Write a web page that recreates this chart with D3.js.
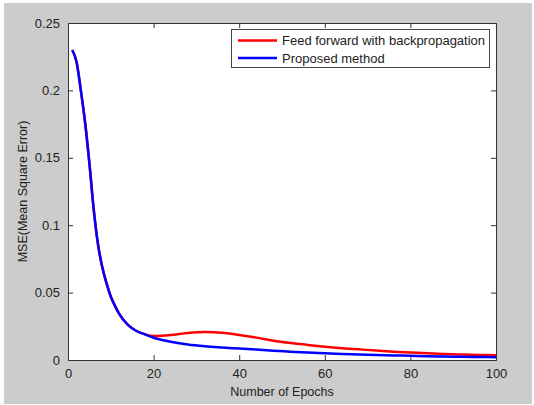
<!DOCTYPE html>
<html>
<head>
<meta charset="utf-8">
<script src="https://cdn.jsdelivr.net/npm/d3@7"></script>
<style>
  body { margin: 0; background: #fff; }
  text { font-family: "Liberation Sans", Arial, sans-serif; fill: #222; }
</style>
</head>
<body>
<div id="chart"></div>
<script>
// epochs
var epochs = [1, 2, 3, 4, 5, 6, 7, 8, 9, 10, 11, 12, 14, 16, 18, 20, 24, 28, 32, 36, 40, 44, 48, 52, 56, 60, 64, 68, 72, 76, 80, 84, 88, 92, 96, 100];
var backprop = [0.230, 0.221, 0.200, 0.176, 0.146, 0.112, 0.086, 0.069, 0.057, 0.047, 0.040, 0.034, 0.026, 0.0215, 0.019, 0.0178, 0.0185, 0.0200, 0.0207, 0.0203, 0.0186, 0.0166, 0.0143, 0.0126, 0.0112, 0.0099, 0.0088, 0.0079, 0.0070, 0.0062, 0.0056, 0.0050, 0.0045, 0.0041, 0.0038, 0.0035];
var proposed = [0.230, 0.221, 0.200, 0.176, 0.146, 0.112, 0.086, 0.069, 0.057, 0.047, 0.040, 0.034, 0.026, 0.0215, 0.019, 0.0165, 0.0136, 0.0115, 0.0102, 0.0093, 0.0085, 0.0077, 0.0069, 0.0062, 0.0055, 0.0050, 0.0045, 0.0041, 0.0037, 0.0034, 0.0031, 0.0028, 0.0026, 0.0024, 0.0022, 0.0021];
var seriesNames = ["Feed forward with backpropagation", "Proposed method"];
var seriesColors = ["#ff0000", "#0000ff"];
var xTicks = [0, 20, 40, 60, 80, 100];
var yTicks = [0, 0.05, 0.1, 0.15, 0.2, 0.25];

var W = 534, H = 405;
var m = {left: 68, top: 23, right: 496, bottom: 360};

var svg = d3.select("#chart").append("svg")
  .attr("width", W)
  .attr("height", H);

svg.append("rect")
  .attr("x", 4).attr("y", 3)
  .attr("width", W - 6).attr("height", H - 4)
  .attr("fill", "#cccccc");

svg.append("rect")
  .attr("x", m.left).attr("y", m.top)
  .attr("width", m.right - m.left).attr("height", m.bottom - m.top)
  .attr("fill", "#fff");

var x = d3.scaleLinear().domain([0, 100]).range([m.left, m.right]);
var y = d3.scaleLinear().domain([0, 0.25]).range([m.bottom, m.top]);

function fmt(d) { return d === 0 ? "0" : String(+d.toFixed(2)); }

// axes with inward ticks on all four sides
var axB = svg.append("g").attr("transform", "translate(0," + m.bottom + ")")
  .call(d3.axisBottom(x).tickValues(xTicks).tickSize(-5).tickPadding(9).tickFormat(fmt));
var axT = svg.append("g").attr("transform", "translate(0," + m.top + ")")
  .call(d3.axisTop(x).tickValues(xTicks).tickSize(-5).tickFormat(""));
var axL = svg.append("g").attr("transform", "translate(" + m.left + ",0)")
  .call(d3.axisLeft(y).tickValues(yTicks).tickSize(-5).tickPadding(8).tickFormat(fmt));
var axR = svg.append("g").attr("transform", "translate(" + m.right + ",0)")
  .call(d3.axisRight(y).tickValues(yTicks).tickSize(-5).tickFormat(""));

[axB, axT, axL, axR].forEach(function(a) {
  a.select(".domain").attr("stroke", "#333");
  a.selectAll(".tick line").attr("stroke", "#333");
  a.selectAll("text").style("font-size", "13px").attr("fill", "#222")
    .style("font-family", "'Liberation Sans', Arial, sans-serif");
});

var line = d3.line()
  .x(function(d) { return x(d[0]); })
  .y(function(d) { return y(d[1]); })
  .curve(d3.curveMonotoneX);

var allSeries = [backprop, proposed];
allSeries.forEach(function(vals, i) {
  svg.append("path")
    .datum(epochs.map(function(e, j) { return [e, vals[j]]; }))
    .attr("fill", "none")
    .attr("stroke", seriesColors[i])
    .attr("stroke-width", 2.5)
    .attr("d", line);
});

// legend
var lg = svg.append("g");
lg.append("rect")
  .attr("x", 231.5).attr("y", 29.5)
  .attr("width", 258).attr("height", 38)
  .attr("fill", "#fff").attr("stroke", "#444");
seriesNames.forEach(function(name, i) {
  var yy = 40.5 + i * 17.5;
  lg.append("line")
    .attr("x1", 238).attr("x2", 277)
    .attr("y1", yy).attr("y2", yy)
    .attr("stroke", seriesColors[i]).attr("stroke-width", 2.5);
  lg.append("text")
    .attr("x", 282).attr("y", yy + 4.5)
    .style("font-size", "13px")
    .text(name);
});

svg.append("text")
  .attr("x", (m.left + m.right) / 2).attr("y", 396)
  .attr("text-anchor", "middle")
  .style("font-size", "12.5px")
  .text("Number of Epochs");

svg.append("text")
  .attr("transform", "translate(27," + ((m.top + m.bottom) / 2) + ") rotate(-90)")
  .attr("text-anchor", "middle")
  .style("font-size", "12.5px")
  .text("MSE(Mean Square Error)");
</script>
</body>
</html>
